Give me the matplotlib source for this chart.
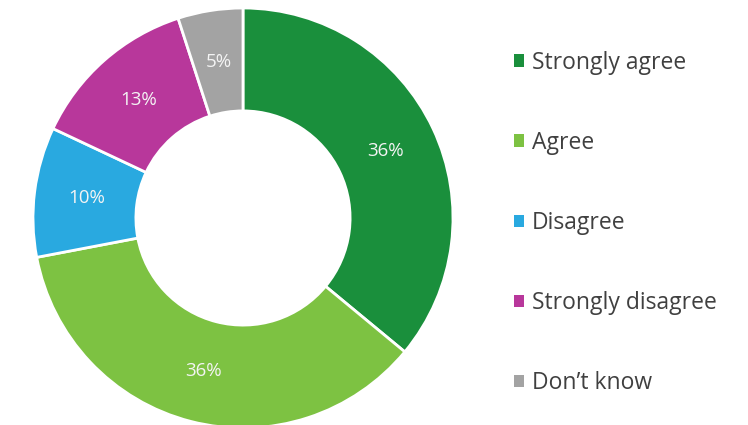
import matplotlib.pyplot as plt
from matplotlib.patches import Patch

# Survey response shares
categories = ['Strongly agree', 'Agree', 'Disagree', 'Strongly disagree', "Don\u2019t know"]
shares = [36, 36, 10, 13, 5]
colors = ['#1a8f3c', '#7dc242', '#29a9e0', '#b8379b', '#a3a3a3']

plt.rcParams['font.family'] = ['Open Sans', 'DejaVu Sans']

fig = plt.figure(figsize=(7.48, 4.25), dpi=100)
ax = fig.add_axes([33 / 748, -3 / 425, 420 / 748, 420 / 425])

wedges, texts, autotexts = ax.pie(
    shares, colors=colors, startangle=90, counterclock=False,
    autopct='%d%%', pctdistance=0.75,
    wedgeprops=dict(width=0.49, edgecolor='white', linewidth=2),
    textprops=dict(color='#f4f4f4', fontsize=13.5),
)
ax.set_xlim(-1.0, 1.0)
ax.set_ylim(-1.0, 1.0)
ax.set_aspect('equal')

handles = [Patch(facecolor=c, edgecolor='none') for c in colors]
fig.legend(handles, categories, loc='upper left', bbox_to_anchor=(493 / 748, 1 - 30 / 425),
           frameon=False, fontsize=16.5, labelcolor='#404040',
           handlelength=0.45, handleheight=0.45, handletextpad=0.35,
           labelspacing=2.45)

fig.savefig('out.png', dpi=100)
